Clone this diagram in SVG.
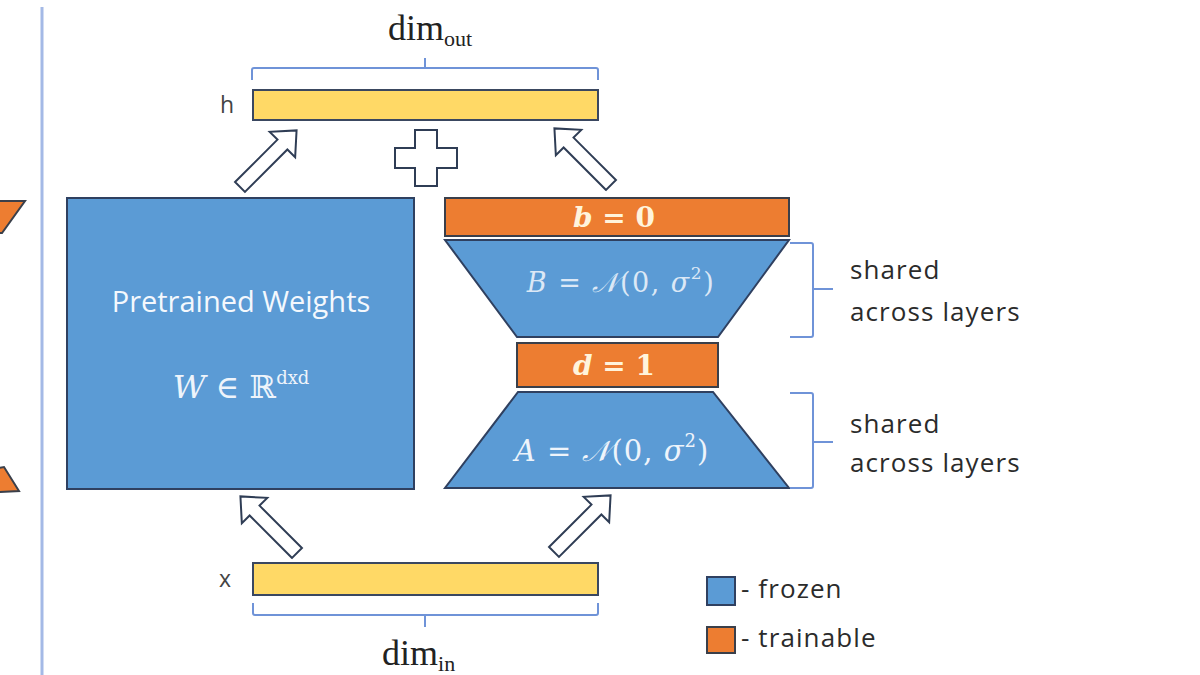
<svg xmlns="http://www.w3.org/2000/svg" width="1200" height="675" viewBox="0 0 1200 675">
<style>
.frozen{fill:#5b9bd5;stroke:#2f4060;stroke-width:2}
.train{fill:#ed7d31;stroke:#3a3f4a;stroke-width:2}
.vec{fill:#ffd966;stroke:#3a4760;stroke-width:2}
.brace{fill:none;stroke:#6f93d8;stroke-width:2}
.arrow{fill:#ffffff;stroke:#2f3d55;stroke-width:2}
.lbl{font-family:"Open Sans",Lato,"Liberation Sans",sans-serif;fill:#2b2b2b}
.side{font-size:26px;letter-spacing:1.1px}
.math{font-family:"DejaVu Serif","Liberation Serif",serif;font-style:italic}
.dim{font-family:"Liberation Serif","DejaVu Serif",serif;fill:#222}
</style>
<defs>
<path id="blk" d="M0,-7 L60,-7 L60,-18 L80,0 L60,18 L60,7 L0,7 Z"/>
</defs>
<rect width="1200" height="675" fill="#ffffff"/>
<line x1="42" y1="7" x2="42" y2="675" stroke="#a4b9e6" stroke-width="3"/>
<polygon class="train" points="-2,201 25,201 2,233 -2,233"/>
<polygon class="train" points="-2,468 4,467 19,491 -2,492"/>

<g id="dim-out">
<path class="brace" d="M252,80 V70 Q252,68 254,68 H596 Q598,68 598,70 V80 M425,68 V58"/>
<text class="dim" x="388" y="40" font-size="36">dim<tspan font-size="22" dy="6">out</tspan></text>
</g>
<g id="h">
<text class="lbl" x="220" y="113" font-size="23" style="fill:#444">h</text>
<rect class="vec" x="253" y="90" width="345" height="30"/>
</g>
<g id="plus">
<path class="arrow" d="M415,130 H437 V148 H457 V168 H437 V186 H415 V168 H395 V148 H415 Z"/>
</g>
<g id="pretrained">
<rect class="frozen" x="67" y="198" width="347" height="291"/>
<text class="lbl" x="241" y="312" font-size="29" text-anchor="middle" style="fill:#f4f8fd">Pretrained Weights</text>
<text class="math" x="241" y="398" font-size="32" text-anchor="middle" fill="#eef4fb">W<tspan font-style="normal"> ∈ ℝ</tspan><tspan font-style="normal" font-size="18" dy="-14">dxd</tspan></text>
</g>
<g id="b0">
<rect class="train" x="445" y="198" width="344" height="38"/>
<text class="math" x="614" y="227" font-size="28" font-weight="bold" text-anchor="middle" fill="#fff4dc">b<tspan font-style="normal"> = 0</tspan></text>
</g>
<g id="B">
<polygon class="frozen" points="445,240 789,240 718,337 517,337"/>
<text class="math" x="621" y="292" font-size="27" letter-spacing="1.5" text-anchor="middle" fill="#dce8f6">B<tspan font-style="normal"> = </tspan>𝒩<tspan font-style="normal">(0, </tspan>σ<tspan font-style="normal" font-size="17" dy="-13">2</tspan><tspan font-style="normal" dy="13">)</tspan></text>
</g>
<g id="d1">
<rect class="train" x="517" y="343" width="201" height="44"/>
<text class="math" x="614" y="375" font-size="28" font-weight="bold" text-anchor="middle" fill="#fff4dc">d<tspan font-style="normal"> = 1</tspan></text>
</g>
<g id="A">
<polygon class="frozen" points="518,392 713,392 789,488 445,488"/>
<text class="math" x="612" y="461" font-size="29" letter-spacing="1" text-anchor="middle" fill="#eef4fb">A<tspan font-style="normal"> = </tspan>𝒩<tspan font-style="normal">(0, </tspan>σ<tspan font-style="normal" font-size="18" dy="-14">2</tspan><tspan font-style="normal" dy="14">)</tspan></text>
</g>
<g id="shared-B">
<path class="brace" d="M790,243 H811 Q813,243 813,245 V335 Q813,337 811,337 H790 M813,289 H833"/>
<text class="lbl side" x="850" y="279">shared</text>
<text class="lbl side" x="850" y="321">across layers</text>
</g>
<g id="shared-A">
<path class="brace" d="M790,393 H811 Q813,393 813,395 V486 Q813,488 811,488 H790 M813,442 H833"/>
<text class="lbl side" x="850" y="433">shared</text>
<text class="lbl side" x="850" y="472">across layers</text>
</g>
<g id="x">
<text class="lbl" x="219" y="587" font-size="23" style="fill:#444">x</text>
<rect class="vec" x="253" y="563" width="345" height="32"/>
</g>
<g id="dim-in">
<path class="brace" d="M253,603 V613 Q253,615 255,615 H596 Q598,615 598,613 V603 M425,615 V627"/>
<text class="dim" x="382" y="665" font-size="36">dim<tspan font-size="22" dy="6">in</tspan></text>
</g>
<g id="connectors">
<use href="#blk" class="arrow" transform="translate(240,187) rotate(-45)"/>
<use href="#blk" class="arrow" transform="translate(611,185) rotate(-135)"/>
<use href="#blk" class="arrow" transform="translate(297,553) rotate(-135)"/>
<use href="#blk" class="arrow" transform="translate(554,552) rotate(-45)"/>
</g>
<g id="legend">
<rect class="frozen" x="707" y="577" width="28" height="28"/>
<text class="lbl side" x="741" y="598">- frozen</text>
<rect class="train" x="707" y="627" width="28" height="26"/>
<text class="lbl side" x="741" y="647">- trainable</text>
</g>
</svg>
